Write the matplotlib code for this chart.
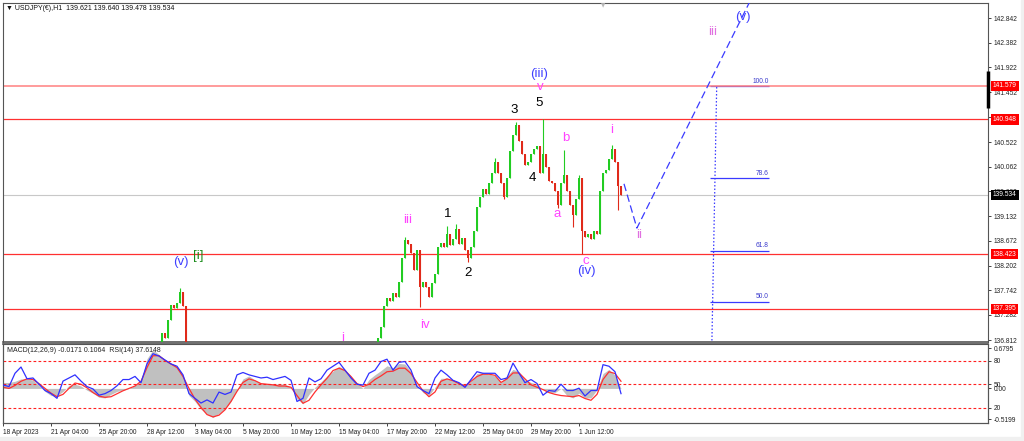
import matplotlib
matplotlib.use("Agg")
import matplotlib.pyplot as plt
import matplotlib.transforms as mtrans
from matplotlib.patches import Rectangle

plt.rcParams['font.family'] = ['Liberation Sans', 'DejaVu Sans']

# ---------------- data ----------------
# price closes (4h steps), two visible stretches; first value of each is the prior close
seg1_start = 51
seg1_close = [136.60, 136.70, 136.95, 136.85, 137.19, 137.47, 137.42, 137.51, 137.72, 137.45, 136.40]
seg2_start = 123
seg2_close = [136.30, 136.50, 136.85, 137.06, 137.45, 137.60, 137.55, 137.69, 137.62, 137.90, 138.35,
              138.68, 138.62, 138.45, 138.12, 138.50, 137.80, 137.90, 137.80, 137.62, 137.88,
              138.05, 138.55, 138.63, 138.55, 138.80, 138.60, 138.70, 138.90, 138.62, 138.72,
              138.50, 138.35, 138.55, 138.85, 139.30, 139.50, 139.65, 139.55, 139.75, 139.95,
              140.15, 139.95, 139.75, 139.50, 139.85, 140.35, 140.65, 140.85, 140.55, 140.30,
              140.10, 140.15, 140.30, 140.40, 140.45, 139.95, 140.30, 140.05, 139.80, 139.75,
              139.60, 139.35, 139.75, 139.90, 139.60, 139.35, 139.15, 139.45, 139.85, 138.85,
              138.75, 138.80, 138.70, 138.85, 138.80, 139.60, 139.95, 140.00, 140.20, 140.40,
              140.15, 139.70, 139.534]
wick_hi_idx = [59, 134, 148, 151, 164, 171, 180, 187, 192, 203]
wick_hi_val = [137.78, 138.74, 138.95, 138.98, 140.22, 140.90, 140.95, 140.37, 139.90, 140.47]
wick_lo_idx = [139, 155, 167, 185, 190, 193, 205]
wick_lo_val = [137.43, 138.27, 139.45, 139.28, 138.93, 138.43, 139.25]

price_ticks = [142.842, 142.382, 141.922, 141.452, 140.992, 140.522, 140.062, 139.602,
               139.132, 138.672, 138.202, 137.742, 137.282, 136.812]
red_levels = [141.579, 140.948, 138.423, 137.395]
last_price = 139.534

fib_labels = ['100.0', '78.6', '61.8', '50.0']
fib_prices = [141.57, 139.84, 138.48, 137.53]
fib_anchor_x = [235.2, 237.9]
fib_anchor_y = [133.49, 141.57]

proj_x = [207, 211.3, 252]
proj_y = [139.74, 138.91, 143.5]

wave_text = ['(v)', '[i]', 'i', 'iii', 'iv', '1', '2', '3', '4', '5', 'v', '(iii)',
             'a', 'b', 'c', '(iv)', 'i', 'ii', 'iii', '(v)']
wave_x = [59.3, 65, 113.3, 135, 140.7, 148.3, 155, 170.3, 176.3, 178.7, 179, 178.7,
          184.7, 187.7, 194.3, 194.3, 203, 212, 236.7, 246.7]
wave_y = [138.27, 138.39, 136.85, 139.06, 137.09, 139.17, 138.07, 141.12, 139.85, 141.25, 141.55, 141.80,
          139.17, 140.60, 138.29, 138.10, 140.75, 138.78, 142.59, 142.87]
wave_color = ['#4040ff', '#1a8c1a', '#ff44ff', '#ff44ff', '#ff44ff', 'black', 'black', 'black', 'black',
              'black', '#ff44ff', '#4040ff', '#ff44ff', '#ff44ff', '#ff44ff', '#4040ff', '#ff44ff',
              '#e070e0', '#e070e0', '#4040ff']

# indicator panel (every 2 steps)
rsi = [49, 47, 64, 72, 57, 58, 50, 42, 38, 32,
       54, 58, 62, 54, 47, 44, 36, 38, 42, 48,
       56, 56, 60, 52, 76, 89, 86, 81, 76, 73,
       62, 38, 32, 26, 30, 26, 40, 37, 40, 62,
       65, 62, 60, 58, 59, 56, 58, 60, 55, 28,
       32, 58, 53, 57, 68, 73, 78, 68, 58, 50,
       49, 64, 68, 79, 82, 68, 78, 79, 68, 47,
       42, 38, 58, 68, 62, 55, 52, 46, 56, 66,
       64, 64, 64, 56, 58, 77, 64, 52, 56, 51,
       36, 42, 41, 50, 42, 42, 45, 35, 42, 42,
       75, 73, 66, 38]
macd_hist = [0.10, 0.10, 0.12, 0.16, 0.16, 0.14, 0.05, -0.05, -0.12, -0.13,
             -0.05, 0.05, 0.07, 0.04, -0.03, -0.08, -0.15, -0.16, -0.10, -0.05,
             -0.03, 0.00, 0.05, 0.12, 0.50, 0.65, 0.57, 0.48, 0.42, 0.37,
             0.20, -0.12, -0.22, -0.35, -0.43, -0.49, -0.42, -0.34, -0.22, -0.02,
             0.16, 0.21, 0.14, 0.09, 0.08, 0.07, 0.08, 0.07, 0.02, -0.18,
             -0.26, -0.10, 0.02, 0.11, 0.21, 0.29, 0.37, 0.32, 0.20, 0.09,
             0.00, 0.15, 0.23, 0.30, 0.38, 0.35, 0.42, 0.41, 0.28, 0.06,
             -0.07, -0.12, 0.02, 0.17, 0.17, 0.14, 0.10, 0.05, 0.12, 0.25,
             0.27, 0.24, 0.21, 0.10, 0.21, 0.32, 0.28, 0.14, 0.10, 0.07,
             -0.02, -0.07, -0.07, 0.00, -0.12, -0.16, -0.08, -0.16, -0.16, -0.02,
             0.25, 0.32, 0.22, 0.00]
macd_signal = [0.02, 0.00, 0.05, 0.12, 0.16, 0.15, 0.08, 0.00, -0.08, -0.14,
               -0.10, 0.00, 0.09, 0.07, 0.01, -0.07, -0.13, -0.15, -0.14, -0.09,
               -0.04, 0.00, 0.04, 0.12, 0.35, 0.55, 0.55, 0.47, 0.41, 0.35,
               0.20, 0.00, -0.18, -0.32, -0.44, -0.48, -0.45, -0.36, -0.22, -0.05,
               0.10, 0.16, 0.13, 0.08, 0.07, 0.06, 0.04, 0.04, 0.02, -0.12,
               -0.25, -0.20, -0.06, 0.06, 0.17, 0.30, 0.34, 0.30, 0.20, 0.08,
               0.03, 0.07, 0.15, 0.21, 0.28, 0.29, 0.34, 0.34, 0.25, 0.10,
               -0.04, -0.14, -0.06, 0.12, 0.16, 0.13, 0.08, 0.04, 0.12, 0.20,
               0.24, 0.24, 0.22, 0.10, 0.16, 0.26, 0.26, 0.16, 0.06, 0.02,
               -0.02, -0.07, -0.10, -0.12, -0.13, -0.14, -0.12, -0.17, -0.20, -0.10,
               0.15, 0.28, 0.25, 0.12]
rsi_levels = [80, 50, 20]

xtick_pos = [0, 16, 32, 48, 64, 80, 96, 112, 128, 144, 160, 176, 192]
xtick_lab = ['18 Apr 2023', '21 Apr 04:00', '25 Apr 20:00', '28 Apr 12:00', '3 May 04:00',
             '5 May 20:00', '10 May 12:00', '15 May 04:00', '17 May 20:00', '22 May 12:00',
             '25 May 04:00', '29 May 20:00', '1 Jun 12:00']

# ---------------- figure ----------------
W, H = 1024, 441
fig = plt.figure(figsize=(W / 100, H / 100), dpi=100, facecolor='white')
fig.patches.append(Rectangle((1021 / W, 0), 3 / W, 1, transform=fig.transFigure,
                             color='#f0f0f0', zorder=0))
fig.patches.append(Rectangle((0, 0), 1, 4 / H, transform=fig.transFigure,
                             color='#f0f0f0', zorder=0))

ax = fig.add_axes([3 / W, (H - 342) / H, 985 / W, 339 / H])
axm = fig.add_axes([3 / W, (H - 423) / H, 985 / W, 79 / H])
axr = axm.twinx()

XMAX = 985 / 3
for a in (ax, axm, axr):
    a.set_xlim(0, XMAX)
ax.set_ylim(136.775, 143.129)
axm.set_ylim(-0.582, 0.747)
axr.set_ylim(0.5, 101.4)

spine_c = '#555555'
for a in (ax, axm, axr):
    for s in a.spines.values():
        s.set_color(spine_c)
        s.set_linewidth(0.8)
ax.spines['bottom'].set_linewidth(1.2)
axm.spines['top'].set_linewidth(1.2)

small = 4.8
# main axis ticks
ax.set_xticks([])
ax.yaxis.tick_right()
ax.set_yticks(price_ticks)
ax.set_yticklabels(['%.3f' % v for v in price_ticks])
ax.tick_params(axis='y', labelsize=small, length=2.5, width=0.6, pad=1.5, colors='#222222')

# horizontal levels
ax.axhline(last_price, color='#c8c8c8', lw=0.8, zorder=1)
for lv in red_levels:
    col = '#ff8080' if lv == red_levels[0] else '#ff3030'
    ax.axhline(lv, color=col, lw=1.1 if lv == red_levels[0] else 0.9, zorder=2)

# candles
def draw_candles(start, closes):
    xs, opens, cls, highs, lows = [], [], [], [], []
    for j in range(1, len(closes)):
        i = start + j
        o, c = closes[j - 1], closes[j]
        hi, lo = max(o, c), min(o, c)
        if i in wick_hi_idx:
            hi = max(hi, wick_hi_val[wick_hi_idx.index(i)])
        if i in wick_lo_idx:
            lo = min(lo, wick_lo_val[wick_lo_idx.index(i)])
        xs.append(i); opens.append(o); cls.append(c); highs.append(hi); lows.append(lo)
    cols = ['#22cc22' if c >= o else '#e02a1a' for o, c in zip(opens, cls)]
    ax.vlines(xs, lows, highs, colors=cols, lw=0.8, zorder=3)
    ax.bar(xs, [c - o for o, c in zip(opens, cls)], bottom=opens, width=0.75,
           color=cols, lw=0, zorder=3)

draw_candles(seg1_start, seg1_close)
draw_candles(seg2_start, seg2_close)

# fibonacci tool
ax.plot(fib_anchor_x, fib_anchor_y, color='#3a3aff', lw=0.9, ls=(0, (1.2, 1.6)), zorder=2)
for lab, pv in zip(fib_labels, fib_prices):
    ax.hlines(pv, 235.7, 255.3, color='#3a3aff', lw=0.9, zorder=1.5)
    ax.text(255.3, pv + 0.03, lab, ha='right', va='bottom', fontsize=small, color='#3a3acc')

# projection
ax.plot(proj_x, proj_y, color='#3a3aff', lw=0.9, ls=(0, (6, 3)), zorder=4)

# wave labels
for t, x, y, c in zip(wave_text, wave_x, wave_y, wave_color):
    ax.text(x, y, t, ha='center', va='center', fontsize=9.5, color=c, zorder=5, clip_on=True)

# right side price boxes
bt = mtrans.blended_transform_factory(ax.transAxes, ax.transData)
for lv in red_levels:
    ax.text(1 + 5 / 985, lv, '%.3f' % lv, transform=bt, ha='left', va='center',
            fontsize=small, color='white', clip_on=False, zorder=6,
            bbox=dict(boxstyle='square,pad=0.25', fc='#ff0000', ec='none'))
ax.text(1 + 5 / 985, last_price, '%.3f' % last_price, transform=bt, ha='left', va='center',
        fontsize=small, color='white', clip_on=False, zorder=6,
        bbox=dict(boxstyle='square,pad=0.25', fc='black', ec='none'))
ax.plot([1, 1], [141.85, 141.16], transform=bt, color='black', lw=2.5,
        clip_on=False, solid_capstyle='butt', zorder=6)
ax.text(600 / 985, 1 - 3 / 339, '▼', transform=ax.transAxes, ha='center', va='center',
        fontsize=4, color='#b8b8b8', family=['DejaVu Sans'])

# ---------------- indicator panel ----------------
x2 = [2 * k for k in range(len(rsi))]
axm.fill_between(x2, 0, macd_hist, color='#c0c0c0', lw=0, zorder=1)
axm.plot(x2, macd_signal, color='#ff3030', lw=0.9, zorder=2)
for lv in rsi_levels:
    axr.axhline(lv, color='#ff2020', lw=0.8, ls=(0, (2.5, 2)), zorder=1)
axr.plot(x2, rsi, color='#3030ff', lw=0.9, zorder=3)

axm.yaxis.tick_right()
axm.set_yticks([0.6795, 0.0, -0.5199])
axm.set_yticklabels(['0.6795', '0.00', '-0.5199'])
axr.set_yticks(rsi_levels)
axr.set_yticklabels([str(v) for v in rsi_levels])
for a in (axm, axr):
    a.tick_params(axis='y', labelsize=small, length=2.5, width=0.6, pad=1.5, colors='#222222')

axm.set_xticks(xtick_pos)
axm.set_xticklabels(xtick_lab)
for lab in axm.get_xticklabels():
    lab.set_ha('left')
axm.tick_params(axis='x', labelsize=small, length=2.5, width=0.6, pad=1.5, colors='#222222')

fig.text(7 / W, 1 - 350 / H, 'MACD(12,26,9) -0.0171 0.1064  RSI(14) 37.6148', fontsize=5,
         va='center', ha='left', color='#222222', zorder=10)
fig.text(6 / W, 1 - 9 / H, '▼ USDJPY(€),H1  139.621 139.640 139.478 139.534', fontsize=5,
         va='center', ha='left', color='#111111')

fig.savefig('out.png', dpi=100, facecolor=fig.get_facecolor())
